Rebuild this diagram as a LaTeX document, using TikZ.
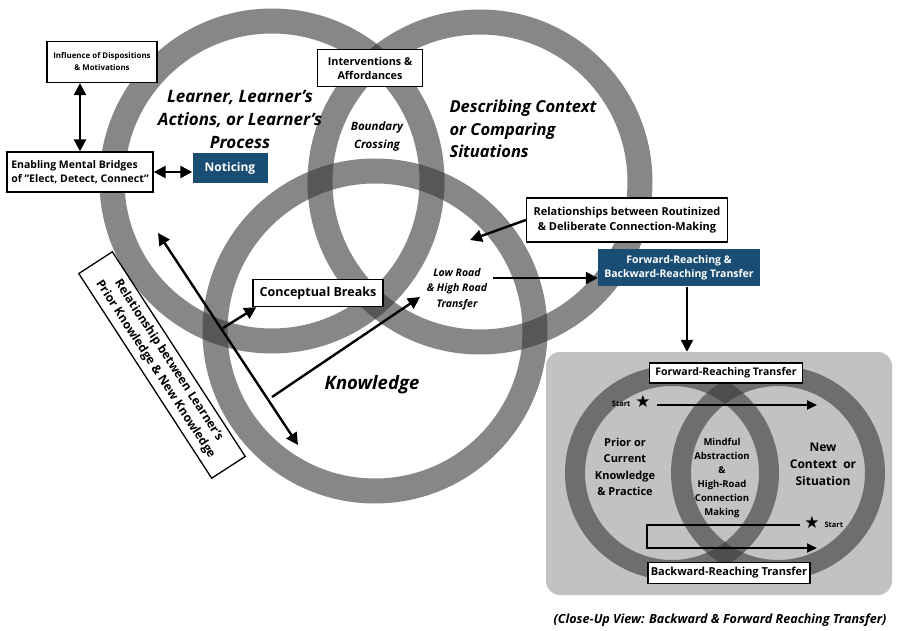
\documentclass[tikz,border=0pt]{standalone}
\usepackage{fontspec}
\setmainfont{Open Sans}
\newfontfamily\symf{DejaVu Sans}
\usetikzlibrary{arrows.meta}
\definecolor{ringc}{RGB}{55,55,55}
\definecolor{bluebox}{RGB}{26,77,116}
\definecolor{panelc}{RGB}{194,194,194}
\newcommand{\fsz}[2]{\fontsize{#1}{#2}\selectfont}
\begin{document}
\begin{tikzpicture}[x=1pt,y=-1pt,
  ring/.style={draw=ringc, draw opacity=0.6, line width=25pt},
  sring/.style={draw=ringc, draw opacity=0.6, line width=20pt},
  wbox/.style={draw=black, line width=1.3pt, fill=white, align=center, inner sep=2pt},
  bbox/.style={fill=bluebox, text=white, align=center, inner sep=2pt},
  arr/.style={line width=2.4pt, -{Triangle[length=12pt,width=12pt]}},
  darr/.style={line width=2.4pt, {Triangle[length=12pt,width=12pt]}-{Triangle[length=12pt,width=12pt]}},
  sarr/.style={line width=2pt, -{Triangle[length=10pt,width=9pt]}},
  bigit/.style={font=\bfseries\itshape\fsz{17}{23}, align=center},
]
\useasboundingbox (0,0) rectangle (900,631);
\fill[white] (0,0) rectangle (900,631);

% main rings
\draw[ring] (272,181) circle[radius=160pt];
\draw[ring] (480,182) circle[radius=160pt];
\draw[ring] (375,331) circle[radius=160pt];

% close-up panel
\node[fill=panelc, rounded corners=14pt, minimum width=346pt, minimum height=243pt, inner sep=0pt] (panel) at (719,473.5) {};
\draw[sring] (672,473) circle[radius=97pt];
\draw[sring] (778,473) circle[radius=97pt];

% big labels
\node[bigit] (learner) at (240,120) {Learner, Learner's\\Actions, or Learner's\\Process};
\node[font=\bfseries\itshape\fsz{16.5}{22.5}, align=left, anchor=west] (describ) at (446,129) {Describing Context\\or Comparing\\Situations};
\node[font=\bfseries\itshape\fsz{11.5}{18}, align=center] (boundary) at (377,137) {Boundary\\Crossing};
\node[font=\bfseries\itshape\fsz{10.5}{15.5}, align=center] (lowroad) at (457,289) {Low Road\\\& High Road\\Transfer};
\node[font=\bfseries\itshape\fsz{18.5}{20}] (knowl) at (372,385) {Knowledge};

% boxes
\node[wbox, minimum width=110pt, minimum height=41pt, font=\bfseries\fsz{7.9}{12}] (infl) at (102,62) {Influence of Dispositions\\\& Motivations};
\node[wbox, minimum width=146pt, minimum height=40pt, align=left, font=\bfseries\fsz{10.5}{14}] (enab) at (80,172) {Enabling Mental Bridges\\of "Elect, Detect, Connect"};
\node[bbox, minimum width=75pt, minimum height=30pt, font=\bfseries\fsz{12}{14}] (notice) at (230,168) {Noticing};
\node[wbox, minimum width=105pt, minimum height=37pt, font=\bfseries\fsz{10.8}{14}] (interv) at (370,68) {Interventions \&\\Affordances};
\node[wbox, minimum width=130pt, minimum height=27pt, font=\bfseries\fsz{12.5}{15}] (concept) at (318,293) {Conceptual Breaks};
\node[wbox, minimum width=201pt, minimum height=44pt, font=\bfseries\fsz{11}{15}] (routin) at (627,220) {Relationships between Routinized\\\& Deliberate Connection-Making};
\node[bbox, minimum width=162pt, minimum height=37pt, font=\bfseries\fsz{10.5}{14}] (fwdbwd) at (679,268) {Forward-Reaching \&\\Backward-Reaching Transfer};
\node[wbox, rotate=-57, minimum width=244pt, minimum height=40pt, font=\bfseries\fsz{12}{16}] (priorrel) at (162,365) {Relationship between Learner's\\Prior Knowledge \& New Knowledge};

% connectors
\draw[darr] (infl.south -| enab.north) -- (enab.north);
\draw[darr] (enab.east) -- (enab.east -| notice.west);
\coordinate (rtip) at (470,240);
\draw[arr] (routin.west) -- (rtip);
\coordinate (lr1) at (493,278);
\draw[arr] (lr1) -- (lr1 -| fwdbwd.west);
\draw[arr] ([xshift=8pt]fwdbwd.south) -- ([xshift=8pt]fwdbwd.south |- panel.north);
\coordinate (cb1) at (223,328);
\draw[arr] (cb1) -- ([xshift=4pt]concept.south west);
\coordinate (k1) at (272,397);
\coordinate (k2) at (420,297);
\draw[arr] (k1) -- (k2);
\coordinate (d1) at (158,233);
\coordinate (d2) at (298,445);
\draw[darr] (d1) -- (d2);

% panel content
\node[wbox, minimum width=153pt, minimum height=20pt, inner sep=1pt, font=\bfseries\fsz{10.5}{12}] (fwdlab) at (726,373) {Forward-Reaching Transfer};
\node[wbox, minimum width=162pt, minimum height=21pt, inner sep=1pt, font=\bfseries\fsz{11}{12}] (bwdlab) at (729,573) {Backward-Reaching Transfer};
\node[font=\bfseries\fsz{11}{16.5}, align=center] (prior) at (625,467) {Prior or\\Current\\Knowledge\\\& Practice};
\node[font=\bfseries\fsz{9.5}{14}, align=center] (mindful) at (722,478) {Mindful\\Abstraction\\\&\\High-Road\\Connection\\Making};
\node[font=\bfseries\fsz{12}{17}, align=center] (newctx) at (823,464) {New\\Context~ or\\Situation};

\node[font=\bfseries\fsz{7.5}{8}, anchor=east] (start1) at (634,404) {Start};
\node[font=\symf\fsz{17}{17}, inner sep=0pt] (star1) at (643,401) {★};
\coordinate (f1) at (657,405);
\coordinate (f2) at (817,405);
\draw[sarr] (f1) -- (f2);

\node[font=\symf\fsz{17}{17}, inner sep=0pt] (star2) at (812,522) {★};
\node[font=\bfseries\fsz{7.5}{8}, anchor=west] (start2) at (821,525) {Start};
\coordinate (b1) at (800,525);
\coordinate (b2) at (647,525);
\coordinate (b3) at (647,548);
\coordinate (b4) at (817,548);
\draw[sarr] (b1) -- (b2) -- (b3) -- (b4);

\node[font=\bfseries\itshape\fsz{12.6}{14}] (caption) at (720,620) {(Close-Up View: Backward \& Forward Reaching Transfer)};
\end{tikzpicture}
\end{document}
